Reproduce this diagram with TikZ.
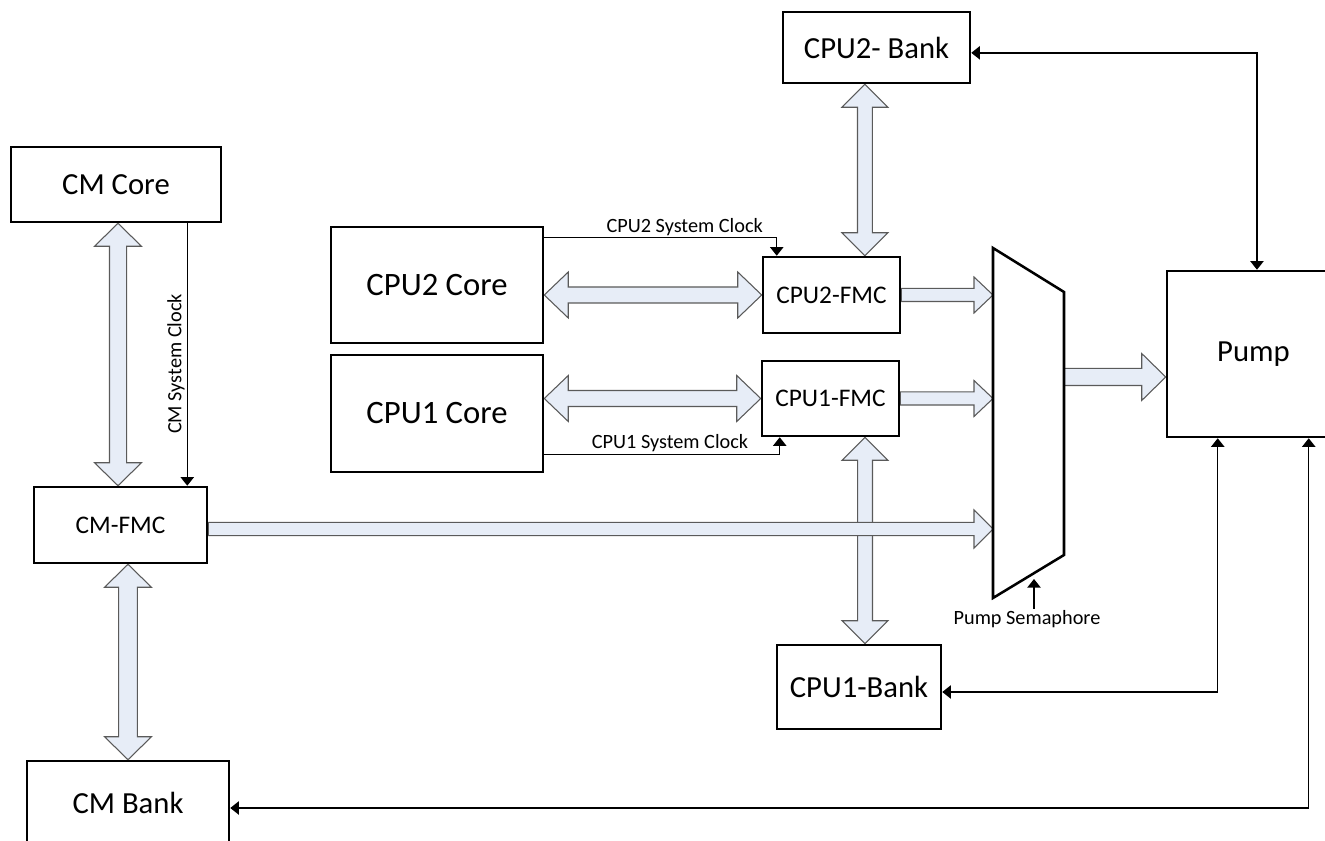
\documentclass[tikz,border=0pt]{standalone}
\usepackage{fontspec}
\setmainfont{Carlito}
\usetikzlibrary{arrows.meta,calc}
\pgfdeclarelayer{bg}
\pgfsetlayers{bg,main}
\definecolor{blkfill}{RGB}{231,237,247}
\definecolor{blkline}{RGB}{90,90,90}
% vertical double block arrow: top tip, bottom tip, half shaft, half head, head length
\newcommand\vdbl[5]{\draw[blk] let \p1=(#1), \p2=(#2) in (\x1,\y1) -- (\x1+#4,\y1-#5) -- (\x1+#3,\y1-#5) -- (\x1+#3,\y2+#5) -- (\x1+#4,\y2+#5) -- (\x1,\y2) -- (\x1-#4,\y2+#5) -- (\x1-#3,\y2+#5) -- (\x1-#3,\y1-#5) -- (\x1-#4,\y1-#5) -- cycle;}
% horizontal double block arrow: left tip, right tip
\newcommand\hdbl[5]{\draw[blk] let \p1=(#1), \p2=(#2) in (\x1,\y1) -- (\x1+#5,\y1+#4) -- (\x1+#5,\y1+#3) -- (\x2-#5,\y1+#3) -- (\x2-#5,\y1+#4) -- (\x2,\y1) -- (\x2-#5,\y1-#4) -- (\x2-#5,\y1-#3) -- (\x1+#5,\y1-#3) -- (\x1+#5,\y1-#4) -- cycle;}
% horizontal single block arrow: start, tip
\newcommand\hsgl[5]{\draw[blk] let \p1=(#1), \p2=(#2) in (\x1,\y1+#3) -- (\x2-#5,\y1+#3) -- (\x2-#5,\y1+#4) -- (\x2,\y1) -- (\x2-#5,\y1-#4) -- (\x2-#5,\y1-#3) -- (\x1,\y1-#3) -- cycle;}
\tikzset{
  box/.style 2 args={draw, line width=1.9pt, minimum width=#1*0.75pt, minimum height=#2*0.75pt, inner sep=0pt, font=\fontsize{23}{27}\selectfont},
  core/.style={font=\fontsize{24.5}{28}\selectfont},
  fmc/.style={font=\fontsize{19}{23}\selectfont},
  lbl/.style={font=\fontsize{15.2}{18}\selectfont},
  blk/.style={draw=blkline, fill=blkfill, line width=0.8pt, line join=miter},
  clk/.style={draw, line width=1.1pt, -{Triangle[width=10pt,length=6.5pt]}},
  twoway/.style={draw, line width=1.1pt, {Triangle[width=10pt,length=6.5pt]}-{Triangle[width=10pt,length=6.5pt]}},
  muxs/.style={draw, line width=1.9pt, line join=miter}
}
\begin{document}
\begin{tikzpicture}[x=0.75pt, y=-0.75pt]
\useasboundingbox (0,0) rectangle (1325,841);
\clip (0,0) rectangle (1325,841);

% boxes
\node[box={210}{75}] (cmcore) at (116,184.5) {CM Core};
\node[box={173}{76}, fmc] (cmfmc) at (120.5,525) {CM-FMC};
\node[box={202}{84}] (cmbank) at (128,803) {CM Bank};
\node[box={212}{116}, core] (cpu2core) at (437,285) {CPU2 Core};
\node[box={212}{117}, core] (cpu1core) at (437,413.5) {CPU1 Core};
\node[box={137}{76}, fmc] (cpu2fmc) at (831.5,295) {CPU2-FMC};
\node[box={137}{75}, fmc] (cpu1fmc) at (830.5,398.5) {CPU1-FMC};
\node[box={187}{71}] (cpu2bank) at (876.5,47.5) {CPU2- Bank};
\node[box={164}{84}] (cpu1bank) at (859,687) {CPU1-Bank};
\node[box={173}{166}] (pump) at (1253.5,354) {Pump};

% multiplexer
\coordinate (mtl) at (993,248);
\coordinate (mtr) at (1064,292);
\coordinate (mbr) at (1064,555);
\coordinate (mbl) at (993,598);
\draw[muxs] (mtl) -- (mtr) -- (mbr) -- (mbl) -- cycle;

% block arrows
\coordinate (v2) at ([xshift=25.1pt]cpu2fmc.north);
\coordinate (v1) at ([xshift=4.5pt]cpu1bank.north);
\coordinate (cmo) at ([yshift=-3pt]cmfmc.east);
\coordinate (pin) at ([yshift=-17.25pt]pump.west);
\begin{pgfonlayer}{bg}
\vdbl{[xshift=1.5pt]cmcore.south}{cmfmc.north}{6.4pt}{17.6pt}{17.25pt}
\vdbl{cmbank.north |- cmfmc.south}{cmbank.north}{7pt}{17.6pt}{17.25pt}
\hdbl{cpu2core.east |- cpu2fmc.west}{cpu2fmc.west}{6pt}{17.25pt}{18pt}
\hdbl{cpu1core.east |- cpu1fmc.west}{cpu1fmc.west}{6pt}{17.25pt}{18pt}
\vdbl{v2 |- cpu2bank.south}{v2}{5.6pt}{17.25pt}{17.25pt}
\vdbl{v1 |- cpu1fmc.south}{v1}{5.6pt}{17.25pt}{17.25pt}
\hsgl{cpu2fmc.east}{cpu2fmc.east -| mtl}{4.9pt}{13.5pt}{14.25pt}
\hsgl{cpu1fmc.east}{cpu1fmc.east -| mtl}{4.9pt}{13.5pt}{14.25pt}
\hsgl{cmo}{cmo -| mtl}{4.9pt}{14.25pt}{14.25pt}
\hsgl{pin -| mtr}{pin}{6.4pt}{17.6pt}{18pt}
\end{pgfonlayer}

% clock lines
\coordinate (cm0) at ([xshift=-26.25pt]cmcore.south east);
\draw[clk] (cm0) -- (cm0 |- cmfmc.north) node[pos=0.536, rotate=90, anchor=south, lbl, inner sep=1.5pt] {CM System Clock};
\coordinate (c2a) at ([yshift=-9pt]cpu2core.north east);
\coordinate (c2b) at ([xshift=11.25pt]cpu2fmc.north west);
\draw[clk] (c2a) -| (c2b) node[pos=0.302, above, lbl, inner sep=1pt] {CPU2 System Clock};
\coordinate (c1a) at ([yshift=14.25pt]cpu1core.south east);
\coordinate (c1b) at ([xshift=14.25pt]cpu1fmc.south west);
\draw[clk] (c1a) -| (c1b) node[pos=0.267, above, lbl, inner sep=1pt] {CPU1 System Clock};

% pump connections
\coordinate (p2) at ([xshift=2.6pt]pump.north);
\coordinate (b2) at ([yshift=-4pt]cpu2bank.east);
\draw[twoway] (b2) -| (p2);
\coordinate (p1) at ([xshift=39pt]pump.south west);
\coordinate (b1) at ([yshift=-3.75pt]cpu1bank.east);
\draw[twoway] (b1) -| (p1);
\coordinate (p0) at ([xshift=107.25pt]pump.south west);
\coordinate (b0) at ([yshift=-3.75pt]cmbank.east);
\draw[twoway] (b0) -| (p0);

% pump semaphore
\coordinate (semtip) at (1034,579);
\node[lbl, inner sep=1pt] (sem) at (1027,619) {Pump Semaphore};
\draw[clk] (sem.north -| semtip) -- (semtip);
\end{tikzpicture}
\end{document}
